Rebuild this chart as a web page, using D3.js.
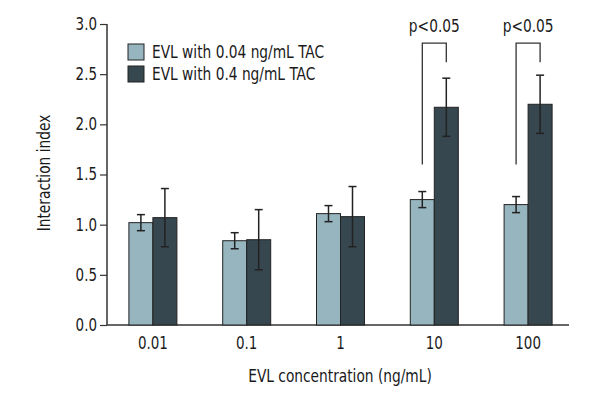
<!DOCTYPE html>
<html><head><meta charset="utf-8">
<script src="https://cdn.jsdelivr.net/npm/d3@7"></script>
<style>
body{margin:0;background:#fff;}
text{font-family:"DejaVu Sans Condensed","Liberation Sans Narrow",sans-serif;fill:#1a1a1a;}
</style></head>
<body><svg id="c" width="600" height="400"></svg>
<script>
const categories = ["0.01","0.1","1","10","100"];
const seriesNames = ["EVL with 0.04 ng/mL TAC","EVL with 0.4 ng/mL TAC"];
const lowTAC = [1.02,0.84,1.11,1.25,1.20];
const lowTACErr = [0.08,0.08,0.08,0.08,0.08];
const highTAC = [1.07,0.85,1.08,2.17,2.20];
const highTACErr = [0.29,0.30,0.30,0.29,0.29];
const yTicks = [0,0.5,1,1.5,2,2.5,3];
const sigCategories = ["10","100"];
const sigLabel = "p<0.05";
const sigLeft = [1.60,1.60];
const sigTop = [2.81,2.81];
const sigRight = [2.62,2.62];

const colors = ["#97b5bf","#37474f"];
const SX = 0.9, FS = "17px";
const svg = d3.select("#c");
const y = d3.scaleLinear().domain([0,3]).range([325,24]);
const x = d3.scaleBand().domain(categories).range([106,575]).padding(0);
const x1 = d3.scaleBand().domain([0,1]).range([0,48]);
const off = (x.bandwidth()-48)/2;

function label(g, tx, ty, txt, anchor, rot){
  return g.append("text")
    .attr("transform",`translate(${tx},${ty})${rot?" rotate("+rot+")":""} scale(${SX},1)`)
    .attr("text-anchor",anchor||"start").style("font-size",FS).text(txt);
}

// y axis
const ya = svg.append("g").attr("transform","translate(107,0)")
  .call(d3.axisLeft(y).tickValues(yTicks).tickFormat(d3.format(".1f")).tickSize(7).tickPadding(4));
ya.select(".domain").attr("stroke","#333").attr("stroke-width",1.5).attr("d","M0,24V325");
ya.selectAll(".tick line").attr("stroke","#333").attr("stroke-width",1.2);
ya.selectAll(".tick text").style("font-size","17px").attr("fill","#1a1a1a")
  .attr("x",null).attr("transform",`translate(-10,0) scale(0.88,1)`);

// x axis
const xa = svg.append("g").attr("transform","translate(0,325)")
  .call(d3.axisBottom(x).tickSize(0).tickPadding(12));
xa.select(".domain").attr("stroke","#333").attr("stroke-width",1.5).attr("d","M107,0H569");
xa.selectAll(".tick text").style("font-size","17px").attr("fill","#1a1a1a")
  .attr("transform",`scale(0.88,1)`);

const series = [
  {vals:lowTAC, errs:lowTACErr},
  {vals:highTAC, errs:highTACErr}
];
series.forEach((s,si)=>{
  const g = svg.append("g");
  categories.forEach((c,i)=>{
    const bx = x(c)+off+x1(si);
    g.append("rect").attr("x",bx).attr("y",y(s.vals[i])).attr("width",x1.bandwidth())
      .attr("height",y(0)-y(s.vals[i])).attr("fill",colors[si]).attr("stroke","#222").attr("stroke-width",1);
    const cx = bx + x1.bandwidth()/2;
    const t = y(s.vals[i]+s.errs[i]), b = y(s.vals[i]-s.errs[i]);
    g.append("line").attr("x1",cx).attr("x2",cx).attr("y1",t).attr("y2",b).attr("stroke","#222").attr("stroke-width",1.5);
    [t,b].forEach(yy=>g.append("line").attr("x1",cx-4).attr("x2",cx+4).attr("y1",yy).attr("y2",yy).attr("stroke","#222").attr("stroke-width",1.5));
  });
});

// significance brackets
sigCategories.forEach((c,i)=>{
  const lx = x(c)+off+x1(0)+x1.bandwidth()/2;
  const rx = x(c)+off+x1(1)+x1.bandwidth()/2;
  svg.append("path").attr("d",`M${lx},${y(sigLeft[i])}V${y(sigTop[i])}H${rx}V${y(sigRight[i])}`)
    .attr("fill","none").attr("stroke","#333").attr("stroke-width",1.3);
  label(svg,(lx+rx)/2,32,sigLabel,"middle");
});

// legend
seriesNames.forEach((n,i)=>{
  const ly = 44 + i*22;
  svg.append("rect").attr("x",128).attr("y",ly).attr("width",16).attr("height",16)
    .attr("fill",colors[i]).attr("stroke","#222").attr("stroke-width",1);
  label(svg,152,ly+14,n,"start");
});

// axis titles
label(svg,340,382,"EVL concentration (ng/mL)","middle");
label(svg,50,173,"Interaction index","middle",-90);
</script></body></html>
